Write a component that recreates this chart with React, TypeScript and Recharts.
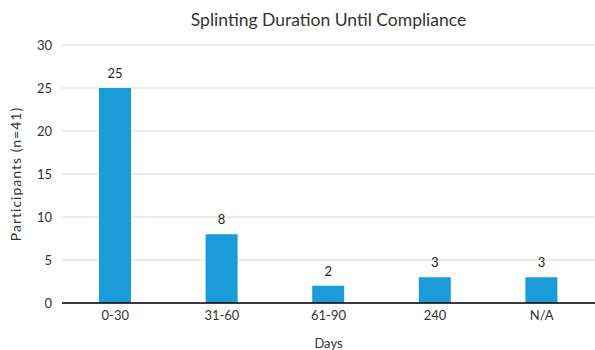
import React from "react";
import {
  BarChart,
  Bar,
  XAxis,
  YAxis,
  CartesianGrid,
  LabelList,
} from "recharts";

// values
const categories = ["0-30", "31-60", "61-90", "240", "N/A"];
const participants = [25, 8, 2, 3, 3];
const yTicks = [0, 5, 10, 15, 20, 25, 30];

const data = categories.map((days, i) => ({ days, participants: participants[i] }));

const FONT = "Lato, 'Open Sans', sans-serif";

const App: React.FC = () => {
  return (
    <div
      style={{
        position: "absolute",
        left: 0,
        top: 0,
        width: 595,
        height: 350,
        background: "#fff",
        fontFamily: FONT,
      }}
    >
      {/* Title */}
      <div
        style={{
          position: "absolute",
          left: 62,
          width: 533,
          top: 9,
          textAlign: "center",
          fontSize: 17.5,
          color: "#333",
        }}
      >
        Splinting Duration Until Compliance
      </div>

      <BarChart
        width={595}
        height={350}
        data={data}
        margin={{ top: 45, right: 0, left: 0, bottom: 0 }}
        barSize={32}
      >
        <CartesianGrid vertical={false} stroke="#d9d9d9" />
        <XAxis
          dataKey="days"
          height={47}
          tickLine={false}
          axisLine={{ stroke: "#000", strokeWidth: 1.5 }}
          tick={{ fontSize: 13, fill: "#333", fontFamily: FONT }}
          tickSize={6}
          tickMargin={2}
          label={{
            value: "Days",
            position: "insideBottom",
            offset: 2,
            style: { fontSize: 13, fill: "#333", fontFamily: FONT },
          }}
        />
        <YAxis
          width={62}
          domain={[0, 30]}
          ticks={yTicks}
          axisLine={false}
          tickLine={false}
          tick={{ fontSize: 13, fill: "#333", fontFamily: FONT }}
          tickSize={6}
          tickMargin={4}
          label={{
            value: "Participants (n=41)",
            angle: -90,
            position: "insideLeft",
            offset: 16,
            style: {
              fontSize: 14,
              fill: "#333",
              fontFamily: FONT,
              textAnchor: "middle",
              letterSpacing: 1,
            },
          }}
        />
        <Bar dataKey="participants" fill="#1b9bd7" isAnimationActive={false}>
          <LabelList
            dataKey="participants"
            position="top"
            offset={10}
            style={{ fontSize: 13, fill: "#222", fontFamily: FONT }}
          />
        </Bar>
      </BarChart>
    </div>
  );
};

export default App;
